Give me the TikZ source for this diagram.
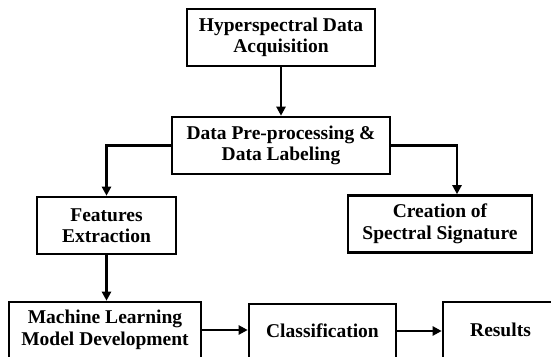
\documentclass[tikz,border=0pt]{standalone}
\usepackage{fontspec}
\setmainfont{Liberation Serif}
\usetikzlibrary{arrows.meta}
\begin{document}
\begin{tikzpicture}[x=1pt,y=-1pt,
  box/.style={draw=black,line width=2.6pt,align=center,inner sep=0pt,
    font=\fontsize{19.5}{21.5}\selectfont\bfseries},
  conn/.style={line width=2.3pt,-{Triangle[length=9pt,width=9pt]}}]
\fill[white] (0,0) rectangle (551,356);
\useasboundingbox (0,0) rectangle (551,356);
\clip (0,0) rectangle (551,356);
\node[box,minimum width=188pt,minimum height=57pt] (acq) at (281,37.5) {Hyperspectral Data\\Acquisition};
\node[box,minimum width=218pt,minimum height=57pt] (pre) at (281,145.5) {Data Pre-processing \&\\Data Labeling};
\node[box,minimum width=139pt,minimum height=57pt] (feat) at (106.5,225.5) {Features\\Extraction};
\node[box,minimum width=184pt,minimum height=57pt] (cre) at (440,224) {Creation of\\Spectral Signature};
\node[box,minimum width=192pt,minimum height=56pt] (ml) at (105,330) {Machine Learning\\Model Development};
\node[box,minimum width=147pt,minimum height=54pt] (cls) at (322.5,331) {Classification};
\node[box,minimum width=115pt,minimum height=56pt] (res) at (500.5,330) {Results};
\coordinate (creTop) at ([xshift=17pt]cre.north);
\draw[conn] (acq.south) -- (pre.north);
\draw[conn] (pre.west) -| (feat.north);
\draw[conn] (pre.east) -| (creTop);
\draw[conn] (feat.south) -- (feat.south |- ml.north);
\draw[conn] (ml.east) -- (ml.east -| cls.west);
\draw[conn] (cls.east) -- (cls.east -| res.west);
\end{tikzpicture}
\end{document}
